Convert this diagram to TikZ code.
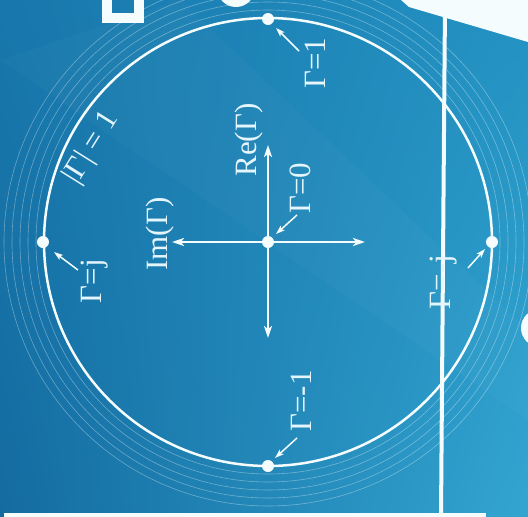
\documentclass[tikz,border=0pt]{standalone}
\usepackage{fontspec}
\setmainfont{Liberation Serif}
\usetikzlibrary{arrows.meta,shadings}
\definecolor{bgA}{HTML}{146BA0}
\definecolor{bgD}{HTML}{1877AC}
\definecolor{bgB}{HTML}{2392C2}
\definecolor{bgC}{HTML}{33A5D1}
\definecolor{txt}{HTML}{E4F5FB}
\definecolor{wht}{HTML}{F4FCFE}
\tikzset{
  lbl/.style={text=txt, font=\fontsize{31}{31}\selectfont, inner sep=0pt, rotate=90},
  dotpt/.style={circle, fill=wht, minimum size=12pt, inner sep=0pt},
  axisarrow/.style={draw=wht, line width=2.4pt, -{Stealth[length=12pt,width=8pt,inset=3pt]}},
  ptr/.style={draw=wht, line width=1.5pt, -{Stealth[length=9pt,width=6pt,inset=2pt]}},
  faint/.style={draw=white, opacity=0.35, line width=0.6pt},
  deco/.style={fill=wht}
}
\begin{document}
\begin{tikzpicture}[x=1pt,y=-1pt]
\useasboundingbox (0,0) rectangle (528,517);
% background
\shade[upper left=bgD, lower left=bgA, upper right=bgB, lower right=bgC] (0,0) rectangle (528,517);
\fill[white, opacity=0.025] (0,60) -- (180,0) -- (528,330) -- (528,420) -- cycle;
% faint rings
\coordinate (C) at (268,242);
\foreach \r in {232,240,248,256,264} {
  \draw[faint] (C) circle[radius=\r pt];
}
% white decorations
\draw[wht, line width=10pt] (107,-20) rectangle (139,17.5);
\fill[deco] (236,-12) circle[radius=19pt];
\fill[deco] (401,0) -- (528,0) -- (528,42) -- (409,7) -- cycle;
\fill[deco] (540,328) circle[radius=19pt];
\coordinate (VT) at (445,4);
\coordinate (VB) at (441,517);
\draw[wht, line width=4pt] (VT) -- (VB);
\fill[deco] (4,513) rectangle (486,518);
% main circle
\draw[wht, line width=2.5pt] (C) circle[radius=224pt];
% axes
\coordinate (AL) at (172,242);
\coordinate (AR) at (365,242);
\coordinate (AU) at (268,145);
\coordinate (AD) at (268,338);
\draw[axisarrow] (C) -- (AL);
\draw[axisarrow] (C) -- (AR);
\draw[axisarrow] (C) -- (AU);
\draw[axisarrow] (C) -- (AD);
% points
\node[dotpt] (O) at (268,242) {};
\node[dotpt] (P1) at (268,19) {};
\node[dotpt] (Pj) at (43,242) {};
\node[dotpt] (Pmj) at (492,242) {};
\node[dotpt] (Pm1) at (268,466) {};
% labels
\node[lbl] (L1) at (315,63) {Γ=1};
\node[lbl] (LRe) at (249,140) {Re(Γ)};
\node[lbl] (L0) at (300,188) {Γ=0};
\node[lbl] (LIm) at (160,234) {Im(Γ)};
\node[lbl, rotate=-32] (LAbs) at (92,148) {|Γ| = 1};
\node[lbl] (Lj) at (95,281) {Γ=j};
\node[lbl] (Lmj) at (444,282) {Γ=-j};
\node[lbl] (Lm1) at (301,401) {Γ=-1};
% pointer arrows
\coordinate (t1) at (299,51);  \coordinate (h1) at (276,28);
\coordinate (t0) at (297,215); \coordinate (h0) at (276,234);
\coordinate (tj) at (78,270);  \coordinate (hj) at (54,252);
\coordinate (tmj) at (468,268); \coordinate (hmj) at (485,249);
\coordinate (tm1) at (297,438); \coordinate (hm1) at (275,458);
\draw[ptr] (t1) -- (h1);
\draw[ptr] (t0) -- (h0);
\draw[ptr] (tj) -- (hj);
\draw[ptr] (tmj) -- (hmj);
\draw[ptr] (tm1) -- (hm1);
\end{tikzpicture}
\end{document}
